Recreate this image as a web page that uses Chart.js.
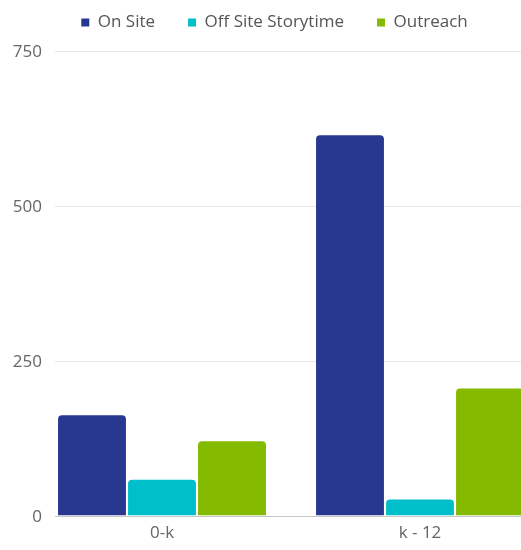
<!DOCTYPE html>
<html lang="en">
<head>
<meta charset="UTF-8">
<title>Programs by age group</title>
<script src="https://cdn.jsdelivr.net/npm/chart.js"></script>
<style>
  html, body { margin: 0; padding: 0; overflow: hidden; background: #fff; }
  canvas { display: block; }
</style>
</head>
<body>
<canvas id="programsChart" width="552" height="550"></canvas>
<script>
// data
const categories = ['0-k', 'k - 12'];
const seriesNames = ['On Site', 'Off Site Storytime', 'Outreach'];
const onSite = [162, 614];
const offSite = [58, 26];
const outreach = [120, 205];
const yTicks = [0, 250, 500, 750];

const colors = ['#283891', '#00BFCB', '#84BA00'];

// grid lines + y labels drawn by hand so the labels can sit over the plot's left edge
const yAxisPlugin = {
  id: 'yAxisDraw',
  beforeInit(chart) {
    // leave a little room under the legend
    const fit = chart.legend.fit;
    chart.legend.fit = function () {
      fit.call(chart.legend);
      this.height += 10;
    };
  },
  beforeDatasetsDraw(chart) {
    const ctx = chart.ctx;
    const y = chart.scales.y;
    const area = chart.chartArea;
    ctx.save();
    yTicks.forEach(function (v) {
      const py = Math.round(y.getPixelForValue(v)) + 0.5;
      ctx.strokeStyle = v === 0 ? '#c8c8c8' : '#e6e6e6';
      ctx.lineWidth = 1;
      ctx.beginPath();
      ctx.moveTo(55, py);
      ctx.lineTo(area.right, py);
      ctx.stroke();

      ctx.fillStyle = '#666';
      ctx.font = '17px "Open Sans"';
      ctx.textAlign = 'right';
      ctx.textBaseline = 'middle';
      ctx.fillText(String(v), 42, py + 1);
    });
    ctx.restore();
  }
};

const ctx = document.getElementById('programsChart').getContext('2d');
new Chart(ctx, {
  type: 'bar',
  data: {
    labels: categories,
    datasets: [
      { label: seriesNames[0], data: onSite, backgroundColor: colors[0] },
      { label: seriesNames[1], data: offSite, backgroundColor: colors[1] },
      { label: seriesNames[2], data: outreach, backgroundColor: colors[2] }
    ]
  },
  options: {
    responsive: false,
    animation: false,
    devicePixelRatio: 1,
    layout: { padding: { top: -19, right: 3, bottom: 0, left: 0 } },
    datasets: {
      bar: {
        categoryPercentage: 0.814,
        barPercentage: 0.97,
        borderRadius: { topLeft: 4, topRight: 4 },
        borderSkipped: 'bottom'
      }
    },
    scales: {
      x: {
        grid: { display: false, drawTicks: false },
        border: { display: false },
        ticks: {
          color: '#666',
          padding: 7,
          font: { family: 'Open Sans', size: 17 }
        }
      },
      y: {
        min: 0,
        max: 750,
        afterFit(scale) { scale.width = 33; },
        grid: { display: false, drawTicks: false },
        border: { display: false },
        ticks: { display: false, stepSize: 250 }
      }
    },
    plugins: {
      legend: {
        position: 'top',
        labels: {
          boxWidth: 8,
          boxHeight: 8,
          padding: 33,
          color: '#555',
          font: { family: 'Open Sans', size: 17 }
        }
      },
      tooltip: { enabled: false }
    }
  },
  plugins: [yAxisPlugin]
});
</script>
</body>
</html>
